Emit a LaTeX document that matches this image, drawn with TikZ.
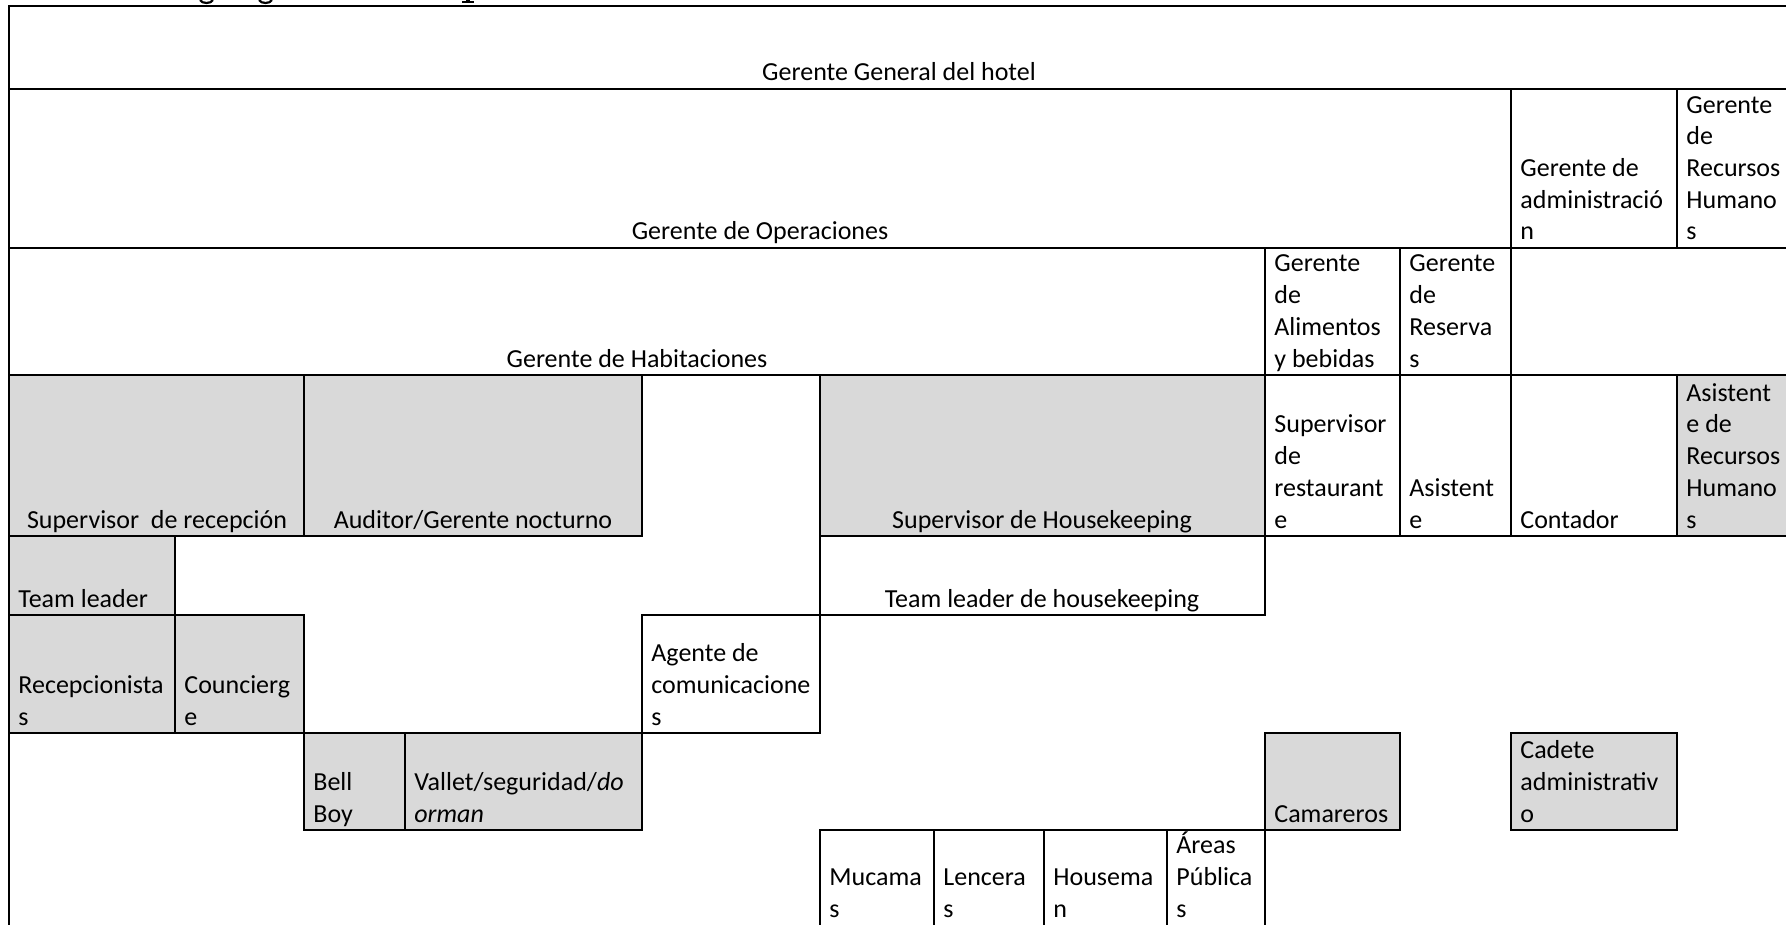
\documentclass[tikz,border=0pt]{standalone}
\usepackage{fontspec}
\setmainfont{Carlito}
\usepackage{tikz}
\usetikzlibrary{positioning}

\definecolor{cellgray}{HTML}{D9D9D9}
\newcommand{\cellfont}{\fontsize{13pt}{15.85pt}\selectfont}

\begin{document}
\begin{tikzpicture}[x=0.5pt,y=0.5pt,yscale=-1,xscale=1,
  box/.style={draw=black, line width=1pt},
  shade/.style={box, fill=cellgray},
  lbl/.style={anchor=base west, inner sep=0pt, align=left, font=\cellfont},
  ctr/.style={anchor=base, inner sep=0pt, font=\cellfont}]
\useasboundingbox (0,0) rectangle (1786,925);

%Shape: heading remains (cut at the top)
\draw[line width=1.1pt] (200,0) .. controls (202,4) and (211,4) .. (213,0) ;
\draw[line width=1.1pt] (259,0) .. controls (261,4) and (270,4) .. (272,0) ;
\fill (462,1.2) rectangle (474,3.4) ;
\fill (466,0) rectangle (470,2) ;

%Shape: Rectangle - row 1
\draw[box] (9,6) rectangle (1795,89) ;

%Shape: Rectangle - row 2
\draw[box] (9,89) rectangle (1511,248) ;
\draw[box] (1511,89) rectangle (1677,248) ;
\draw[box] (1677,89) rectangle (1795,248) ;

%Shape: Rectangle - row 3
\draw[box] (9,248) rectangle (1265,375) ;
\draw[box] (1265,248) rectangle (1400,375) ;
\draw[box] (1400,248) rectangle (1511,375) ;

%Shape: Rectangle - row 4
\draw[shade] (9,375) rectangle (304,536) ;
\draw[shade] (304,375) rectangle (642,536) ;
\draw[shade] (820,375) rectangle (1265,536) ;
\draw[box] (1265,375) rectangle (1400,536) ;
\draw[box] (1400,375) rectangle (1511,536) ;
\draw[box] (1511,375) rectangle (1677,536) ;
\draw[shade] (1677,375) rectangle (1795,536) ;

%Shape: Rectangle - row 5
\draw[shade] (9,536) rectangle (175,615) ;
\draw[box] (820,536) rectangle (1265,615) ;

%Shape: Rectangle - row 6
\draw[shade] (9,615) rectangle (175,733) ;
\draw[shade] (175,615) rectangle (304,733) ;
\draw[box] (642,615) rectangle (820,733) ;

%Shape: Rectangle - row 7
\draw[shade] (304,733) rectangle (405,830) ;
\draw[shade] (405,733) rectangle (642,830) ;
\draw[shade] (1265,733) rectangle (1400,830) ;
\draw[shade] (1511,733) rectangle (1677,830) ;

%Shape: Rectangle - row 8
\draw[box] (820,830) rectangle (934,935) ;
\draw[box] (934,830) rectangle (1044,935) ;
\draw[box] (1044,830) rectangle (1167,935) ;
\draw[box] (1167,830) rectangle (1265,935) ;

%Straight Lines - outer edges
\draw[line width=1.45pt] (9,930) -- (9,6) -- (1795,6) ;

% Text Node
\node[ctr] (gg) at (899,81) {Gerente General del hotel};
% Text Node
\node[ctr] (gop) at (760,240) {Gerente de Operaciones};
% Text Node
\node[lbl] (gadm) at (1520,240) {Gerente de\\administració\\n};
% Text Node
\node[lbl] (grrhh) at (1686,240) {Gerente\\de\\Recursos\\Humano\\s};
% Text Node
\node[ctr] (ghab) at (637,367) {Gerente de Habitaciones};
% Text Node
\node[lbl] (galim) at (1274,367) {Gerente\\de\\Alimentos\\y bebidas};
% Text Node
\node[lbl] (gres) at (1409,367) {Gerente\\de\\Reserva\\s};
% Text Node
\node[ctr] (suprec) at (157,528) {Supervisor\ \ de recepción};
% Text Node
\node[ctr] (audit) at (473,528) {Auditor/Gerente nocturno};
% Text Node
\node[ctr] (suphk) at (1042,528) {Supervisor de Housekeeping};
% Text Node
\node[lbl] (suprest) at (1274,528) {Supervisor\\de\\restaurant\\e};
% Text Node
\node[lbl] (asist) at (1409,528) {Asistent\\e};
% Text Node
\node[lbl] (conta) at (1520,528) {Contador};
% Text Node
\node[lbl] (asrrhh) at (1686,528) {Asistent\\e de\\Recursos\\Humano\\s};
% Text Node
\node[lbl] (teaml) at (18,607) {Team leader};
% Text Node
\node[ctr] (teamhk) at (1042,607) {Team leader de housekeeping};
% Text Node
\node[lbl] (recep) at (18,725) {Recepcionista\\s};
% Text Node
\node[lbl] (concie) at (184,725) {Councierg\\e};
% Text Node
\node[lbl] (agente) at (651,725) {Agente de\\comunicacione\\s};
% Text Node
\node[lbl] (bellboy) at (313,822) {Bell\\Boy};
% Text Node
\node[lbl] (vallet) at (414,822) {Vallet/seguridad/\textit{do}\\\textit{orman}};
% Text Node
\node[lbl] (camar) at (1274,822) {Camareros};
% Text Node
\node[lbl] (cadete) at (1520,822) {Cadete\\administrativ\\o};
% Text Node
\node[lbl] (mucam) at (829,917) {Mucama\\s};
% Text Node
\node[lbl] (lencer) at (943,917) {Lencera\\s};
% Text Node
\node[lbl] (housem) at (1053,917) {Housema\\n};
% Text Node
\node[lbl] (areas) at (1176,917) {Áreas\\Pública\\s};

\end{tikzpicture}
\end{document}
